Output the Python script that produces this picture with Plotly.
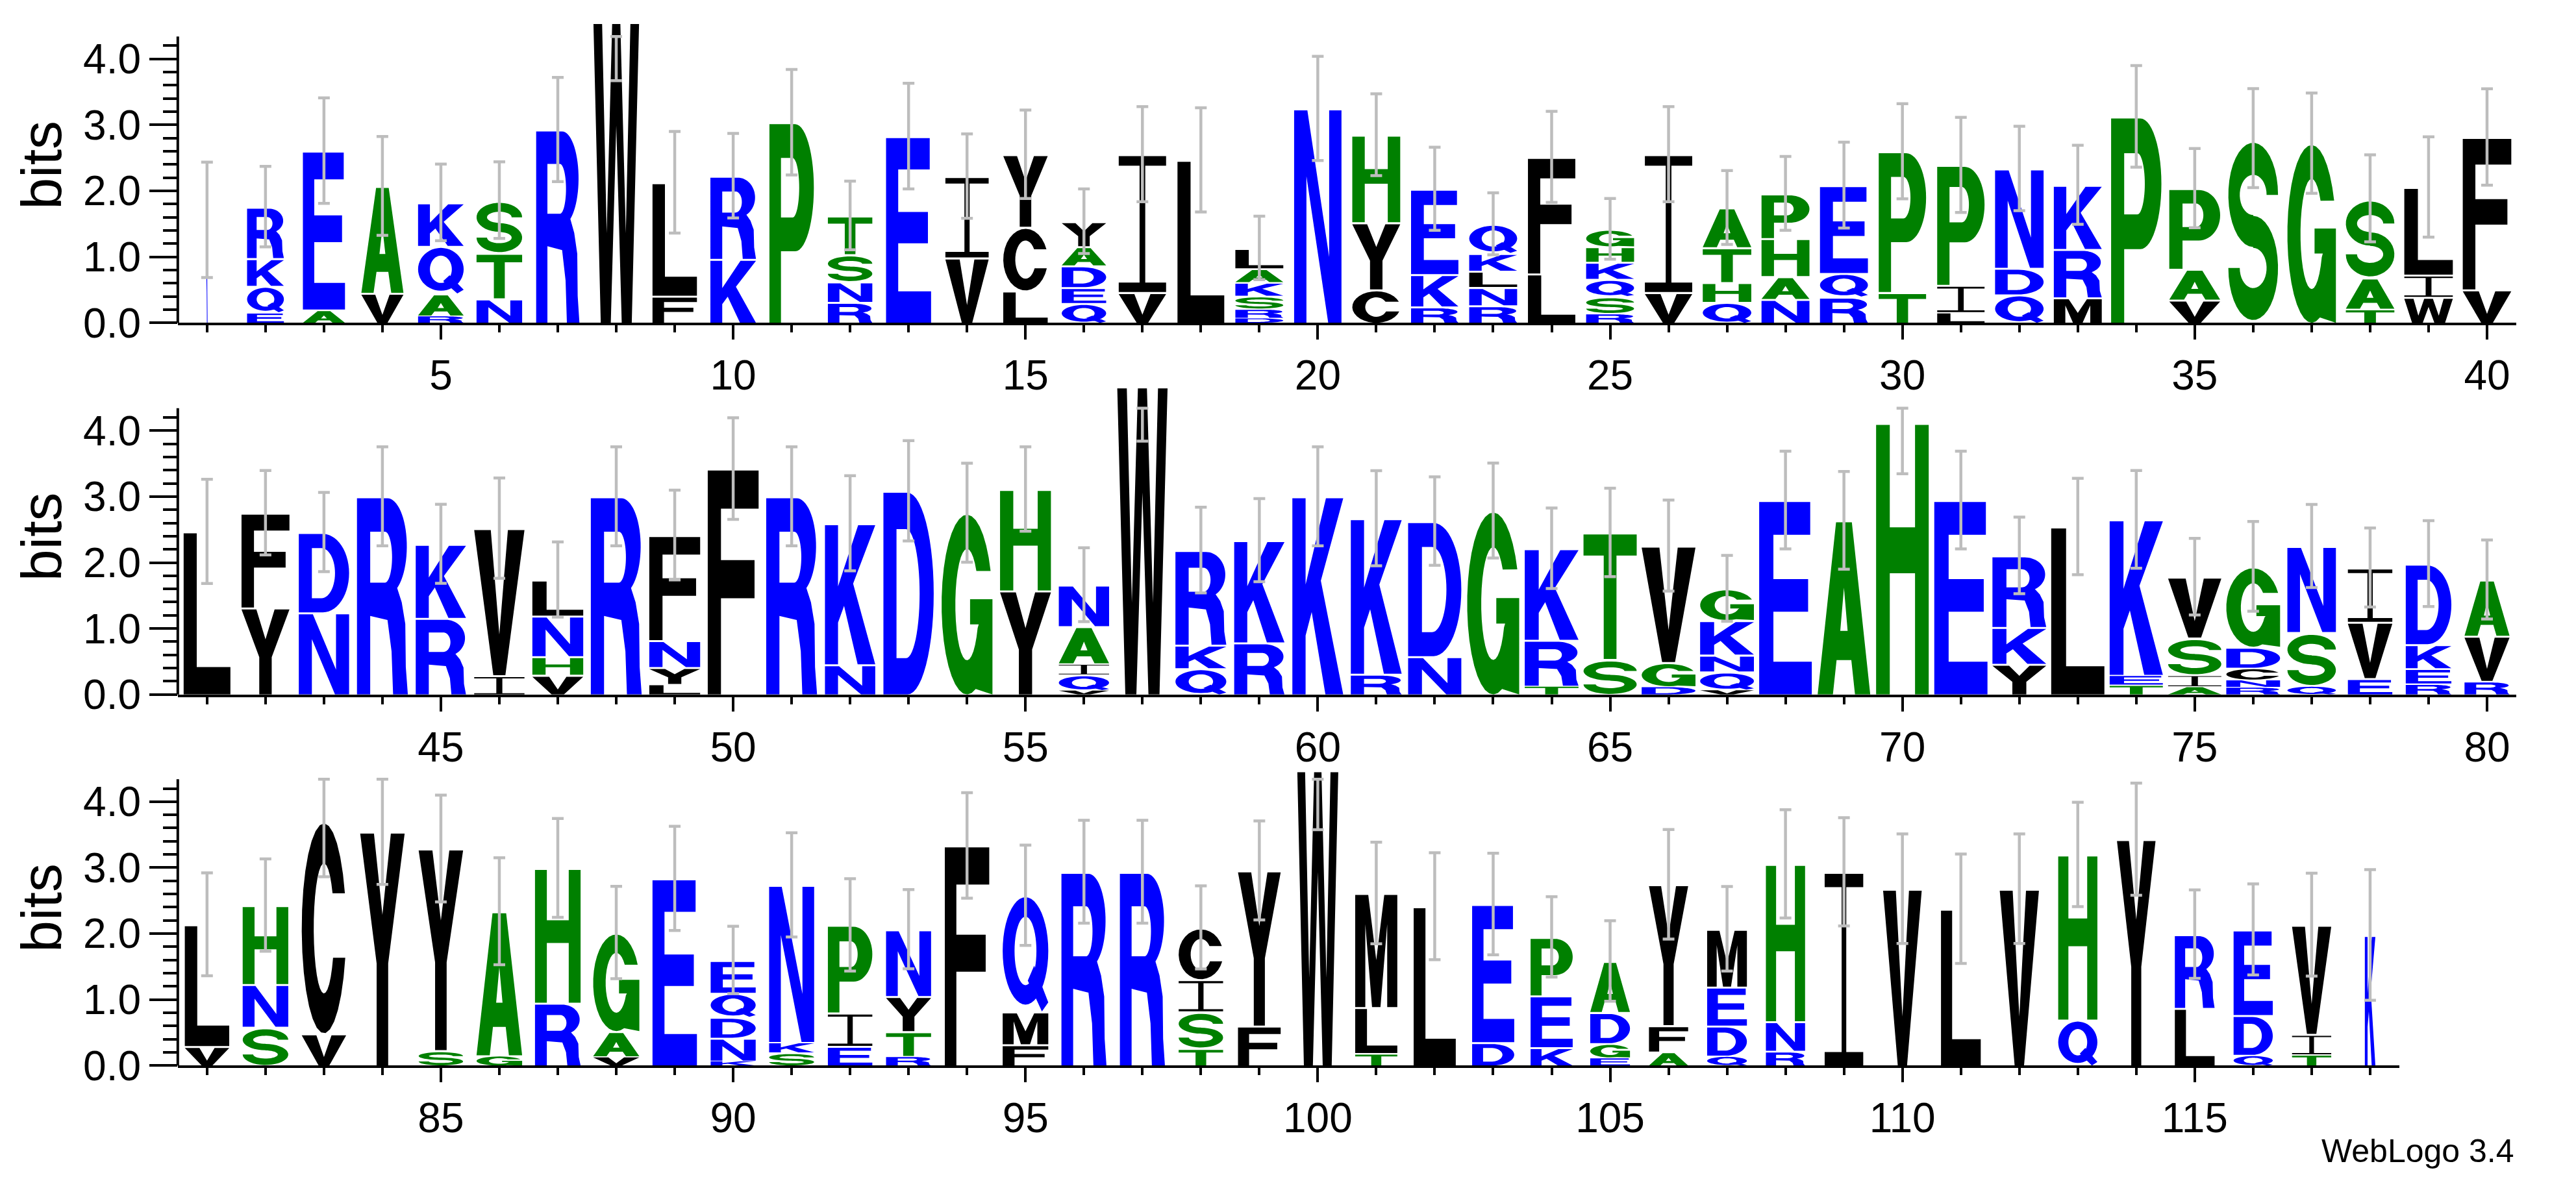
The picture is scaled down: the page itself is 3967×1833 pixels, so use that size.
import math
import plotly.graph_objects as go

# ---------------------------------------------------------------- data
# letters listed bottom -> top for every position; heights in bits
row1_start = 1
row1_letters = ["K", "EQKR", "AE", "VA", "RAQK", "NTS", "R", "W", "FL", "KR",
                "P", "RNST", "E", "VI", "LCY", "QEDAY", "VI", "L", "DRSKAL", "N",
                "CYH", "RKE", "RNLKQ", "LF", "RSQKHG", "VI", "QHTA", "NAHP", "RQE", "TP",
                "LIP", "QDN", "MRK", "P", "VAP", "S", "G", "TAS", "WIL", "VF"]
row1_heights = [[1.56], [0.16, 0.40, 0.42, 0.78], [0.20, 2.41], [0.455, 1.62],
                [0.11, 0.335, 0.72, 0.66], [0.37, 0.69, 0.80], [2.93], [4.56],
                [0.41, 1.72], [0.97, 1.26], [3.04], [0.317, 0.31, 0.414, 0.586],
                [2.83], [0.99, 1.234], [0.49, 0.965, 1.10], [0.30, 0.24, 0.33, 0.29, 0.38],
                [0.466, 2.09], [2.47], [0.076, 0.138, 0.197, 0.207, 0.207, 0.31], [3.25],
                [0.507, 1.017, 1.328], [0.248, 0.49, 1.293], [0.266, 0.276, 0.248, 0.269, 0.441],
                [0.748, 1.766], [0.145, 0.26, 0.26, 0.26, 0.234, 0.266], [0.466, 2.09],
                [0.317, 0.30, 0.528, 0.603], [0.362, 0.345, 0.576, 0.679], [0.397, 0.359, 1.331],
                [0.466, 2.134], [0.162, 0.414, 1.817], [0.43, 0.403, 1.507], [0.386, 0.734, 0.972],
                [3.128], [0.352, 0.466, 1.224], [2.80], [2.724], [0.214, 0.472, 1.20],
                [0.393, 0.338, 1.328], [0.507, 2.31]]
row1_err = [0.875, 0.61, 0.80, 0.75, 0.58, 0.58, 0.79, 0.89, 0.77, 0.64,
            0.80, 0.52, 0.80, 0.64, 0.67, 0.49, 0.72, 0.79, 0.48, 0.79,
            0.62, 0.63, 0.47, 0.69, 0.46, 0.72, 0.56, 0.56, 0.65, 0.72,
            0.72, 0.64, 0.60, 0.77, 0.60, 0.75, 0.76, 0.66, 0.76, 0.73]
row1_width = [0.02, 0.63, 0.72, 0.72, 0.78, 0.78, 0.74, 0.78, 0.76, 0.78,
              0.76, 0.76, 0.77, 0.74, 0.76, 0.76, 0.81, 0.80, 0.82, 0.81,
              0.82, 0.81, 0.82, 0.81, 0.82, 0.81, 0.83, 0.82, 0.82, 0.81,
              0.81, 0.83, 0.82, 0.86, 0.87, 0.85, 0.83, 0.83, 0.83, 0.83]

row2_start = 41
row2_letters = ["L", "YF", "ND", "R", "RK", "IV", "VHNL", "R", "LYNF", "F",
                "R", "NK", "D", "G", "YH", "VQIAN", "W", "QKR", "RK", "K",
                "RK", "ND", "G", "TRK", "ST", "DGV", "VQNKG", "E", "A", "H",
                "E", "YKR", "L", "TEK", "AISV", "RNCDG", "QSN", "EVI", "REKD", "RVA"]
row2_heights = [[2.473], [1.318, 1.437], [1.245, 1.218], [3.004], [1.162, 1.122],
                [0.292, 2.23], [0.299, 0.282, 0.614, 0.548], [3.004],
                [0.16, 0.256, 0.408, 1.593], [3.425],
                [3.004], [0.458, 2.137], [3.087], [2.755], [1.577, 1.537],
                [0.066, 0.239, 0.166, 0.564, 0.63], [4.67], [0.398, 0.358, 1.434],
                [0.79, 1.55], [3.004],
                [0.315, 2.357], [0.581, 2.048], [2.788], [0.133, 0.697, 1.387], [0.538, 1.918],
                [0.126, 0.365, 1.766], [0.073, 0.275, 0.256, 0.524, 0.481], [2.947], [2.639], [4.116],
                [2.947], [0.465, 0.558, 1.085], [2.546], [0.149, 0.149, 2.357],
                [0.126, 0.173, 0.564, 0.923], [0.116, 0.11, 0.179, 0.319, 1.218],
                [0.133, 0.813, 1.305], [0.249, 0.853, 0.823], [0.166, 0.232, 0.365, 1.221],
                [0.206, 0.684, 0.853]]
row2_err = [0.79, 0.64, 0.60, 0.75, 0.60, 0.76, 0.57, 0.75, 0.68, 0.77,
            0.75, 0.72, 0.76, 0.75, 0.64, 0.56, 0.83, 0.65, 0.63, 0.75,
            0.72, 0.67, 0.72, 0.61, 0.67, 0.69, 0.50, 0.74, 0.74, 0.77,
            0.74, 0.58, 0.73, 0.74, 0.58, 0.68, 0.63, 0.60, 0.65, 0.60]
row2_width = [0.80, 0.82, 0.86, 0.87, 0.86, 0.86, 0.87, 0.87, 0.87, 0.87,
              0.87, 0.86, 0.86, 0.87, 0.87, 0.86, 0.86, 0.87, 0.86, 0.87,
              0.87, 0.91, 0.89, 0.92, 0.91, 0.92, 0.92, 0.90, 0.90, 0.90,
              0.91, 0.92, 0.91, 0.91, 0.91, 0.92, 0.83, 0.76, 0.78, 0.77]

row3_start = 81
row3_letters = ["VL", "SNH", "VC", "Y", "SY", "GA", "RH", "VAG", "E", "KNDQE",
                "SKN", "EIP", "RTYN", "F", "FMQ", "R", "R", "TSIC", "FY", "W",
                "TLM", "L", "DE", "KEP", "EGDA", "AFY", "QDEM", "RNH", "I", "V",
                "L", "V", "QH", "Y", "LR", "QDE", "TIV", "K"]
row3_heights = [[0.296, 1.844], [0.588, 0.648, 1.196], [0.488, 3.213], [3.545], [0.233, 3.056],
                [0.156, 2.183], [0.953, 2.043], [0.14, 0.382, 1.495], [2.837],
                [0.073, 0.349, 0.316, 0.365, 0.498],
                [0.2, 0.156, 2.382], [0.299, 0.505, 1.329], [0.146, 0.375, 0.532, 1.013], [3.336],
                [0.322, 0.498, 1.761], [2.937], [2.937], [0.266, 0.555, 0.488, 0.784],
                [0.605, 2.352], [4.475],
                [0.189, 0.698, 1.728], [2.415], [0.355, 2.093], [0.279, 0.784, 0.887],
                [0.123, 0.216, 0.472, 0.774], [0.213, 0.399, 2.136], [0.15, 0.455, 0.591, 0.877],
                [0.223, 0.449, 2.385], [2.937], [2.681],
                [2.377], [2.681], [0.696, 2.504], [3.432], [0.873, 1.119], [0.162, 0.603, 1.298],
                [0.17, 0.31, 1.655], [1.98]]
row3_err = [0.78, 0.70, 0.84, 0.80, 0.81, 0.81, 0.75, 0.70, 0.79, 0.51,
            0.79, 0.70, 0.60, 0.80, 0.76, 0.78, 0.78, 0.63, 0.75, 0.90,
            0.77, 0.81, 0.77, 0.61, 0.61, 0.83, 0.64, 0.82, 0.82, 0.83,
            0.83, 0.83, 0.79, 0.85, 0.67, 0.69, 0.78, 0.99]
row3_width = [0.76, 0.78, 0.76, 0.76, 0.76, 0.78, 0.78, 0.79, 0.76, 0.77,
              0.77, 0.76, 0.77, 0.76, 0.78, 0.77, 0.77, 0.76, 0.73, 0.70,
              0.72, 0.72, 0.72, 0.72, 0.68, 0.67, 0.68, 0.67, 0.66, 0.66,
              0.68, 0.67, 0.67, 0.66, 0.68, 0.67, 0.67, 0.18]

y_tick_vals = [0, 1, 2, 3, 4]
y_tick_text = ["0.0", "1.0", "2.0", "3.0", "4.0"]
y_minor_vals = [v / 5 for v in range(0, 22) if v % 5 != 0]

# ---------------------------------------------------------------- style
COLORS = {}
for ch in "CFILMVWY":
    COLORS[ch] = "#000000"
for ch in "AGHPST":
    COLORS[ch] = "#008000"
for ch in "DEKNQR":
    COLORS[ch] = "#0000FF"

FONT = "Liberation Sans, Arial, Helvetica, sans-serif"
W_FIG, H_FIG = 3967, 1833
X_LEFT_PX = 265.8
PX_PER_POS = 90.03
BASE_PX = [499, 1083, 1666]
PX_PER_BIT = 103.65
Y_AXIS_TOP = 4.34
Y_RANGE = 4.78
ERR_COLOR = "#bdbdbd"


# ---------------------------------------------------------------- glyphs
def ell(cx, cy, rx, ry, a0, a1, n=28):
    pts = []
    for i in range(n + 1):
        a = math.radians(a0 + (a1 - a0) * i / n)
        pts.append((cx + rx * math.cos(a), cy + ry * math.sin(a)))
    return pts


GLYPHS = {
    "A": [([(0, 0), (0.35, 1), (0.65, 1), (1, 0), (0.71, 0), (0.64, 0.2), (0.36, 0.2), (0.29, 0)], False),
          ([(0.43, 0.37), (0.57, 0.37), (0.5, 0.62)], True)],
    "C": [(ell(0.5, 0.5, 0.5, 0.5, 19.5, 343.7) + ell(0.5, 0.5, 0.23, 0.31, 333.2, 32.6), False)],
    "D": [([(0, 0), (0, 1), (0.48, 1)] + ell(0.48, 0.5, 0.52, 0.5, 90, -90), False),
          ([(0.26, 0.18), (0.26, 0.82), (0.45, 0.82)] + ell(0.45, 0.5, 0.27, 0.32, 90, -90), True)],
    "E": [([(0, 0), (0, 1), (0.97, 1), (0.97, 0.83), (0.27, 0.83), (0.27, 0.6), (0.93, 0.6),
            (0.93, 0.43), (0.27, 0.43), (0.27, 0.17), (1, 0.17), (1, 0)], False)],
    "F": [([(0, 0), (0, 1), (1, 1), (1, 0.83), (0.26, 0.83), (0.26, 0.6), (0.92, 0.6),
            (0.92, 0.43), (0.26, 0.43), (0.26, 0)], False)],
    "G": [(ell(0.5, 0.5, 0.5, 0.5, 22, 290) + [(1.0, 0.0), (1.0, 0.53), (0.56, 0.53), (0.56, 0.39),
                                               (0.73, 0.39)] + ell(0.5, 0.5, 0.23, 0.31, 335, 37), False)],
    "H": [([(0, 0), (0, 1), (0.26, 1), (0.26, 0.62), (0.74, 0.62), (0.74, 1), (1, 1), (1, 0),
            (0.74, 0), (0.74, 0.45), (0.26, 0.45), (0.26, 0)], False)],
    "I": [([(0, 0), (1, 0), (1, 0.07), (0.56, 0.07), (0.56, 0.93), (1, 0.93), (1, 1), (0, 1),
            (0, 0.93), (0.44, 0.93), (0.44, 0.07), (0, 0.07)], False)],
    "K": [([(0, 0), (0, 1), (0.26, 1), (0.26, 0.56), (0.66, 1), (1.0, 1), (0.56, 0.58), (1.0, 0),
            (0.65, 0), (0.38, 0.42), (0.26, 0.3), (0.26, 0)], False)],
    "L": [([(0, 0), (0, 1), (0.28, 1), (0.28, 0.17), (1, 0.17), (1, 0)], False)],
    "M": [([(0, 0), (0, 1), (0.31, 1), (0.5, 0.42), (0.69, 1), (1, 1), (1, 0), (0.76, 0),
            (0.76, 0.74), (0.6, 0), (0.4, 0), (0.24, 0.74), (0.24, 0)], False)],
    "N": [([(0, 0), (0, 1), (0.28, 1), (0.74, 0.31), (0.74, 1), (1, 1), (1, 0), (0.72, 0),
            (0.26, 0.69), (0.26, 0)], False)],
    "P": [([(0, 0), (0, 1), (0.58, 1)] + ell(0.58, 0.68, 0.42, 0.32, 90, -90) + [(0.26, 0.36), (0.26, 0)], False),
          ([(0.26, 0.53), (0.26, 0.83), (0.52, 0.83)] + ell(0.52, 0.68, 0.15, 0.15, 90, -90), True)],
    "Q": [(ell(0.5, 0.53, 0.5, 0.47, 0, 360, 48), False),
          (ell(0.5, 0.53, 0.24, 0.3, 0, 360, 48), True),
          ([(0.55, 0.27), (0.69, 0.4), (1.0, 0.08), (0.86, 0.0)], False)],
    "R": [([(0, 0), (0, 1), (0.6, 1)] + ell(0.6, 0.755, 0.38, 0.245, 90, -60) +
           [(0.88, 0.47), (0.95, 0.36), (0.96, 0.14), (1.0, 0.0), (0.71, 0.0), (0.68, 0.22),
            (0.6, 0.38), (0.26, 0.4), (0.26, 0)], False),
          ([(0.26, 0.57), (0.26, 0.83), (0.55, 0.83)] + ell(0.55, 0.7, 0.14, 0.13, 90, -90), True)],
    "S": [(ell(0.5, 0.70, 0.5, 0.285, 0, 270) + ell(0.5, 0.30, 0.27, 0.11, 90, -180) +
           ell(0.5, 0.30, 0.5, 0.285, -180, 90) + ell(0.5, 0.70, 0.27, 0.11, 270, 0), False)],
    "T": [([(0, 1), (1, 1), (1, 0.83), (0.62, 0.83), (0.62, 0), (0.38, 0), (0.38, 0.83), (0, 0.83)], False)],
    "V": [([(0, 1), (0.33, 1), (0.5, 0.28), (0.67, 1), (1, 1), (0.62, 0), (0.38, 0)], False)],
    "W": [([(0, 1), (0.19, 1), (0.29, 0.3), (0.41, 1), (0.59, 1), (0.71, 0.3), (0.81, 1), (1, 1),
            (0.84, 0), (0.62, 0), (0.5, 0.66), (0.38, 0), (0.16, 0)], False)],
    "Y": [([(0, 1), (0.31, 1), (0.5, 0.65), (0.69, 1), (1, 1), (0.63, 0.44), (0.63, 0), (0.37, 0),
            (0.37, 0.44)], False)],
}


def signed_area(pts):
    a = 0.0
    for i in range(len(pts)):
        x1, y1 = pts[i]
        x2, y2 = pts[(i + 1) % len(pts)]
        a += x1 * y2 - x2 * y1
    return a / 2


for key in GLYPHS:
    fixed = []
    for pts, hole in GLYPHS[key]:
        a = signed_area(pts)
        if (a < 0 and not hole) or (a > 0 and hole):
            pts = pts[::-1]
        fixed.append(pts)
    GLYPHS[key] = fixed


def glyph_path(ch, xc, w, y0, h):
    parts = []
    for pts in GLYPHS[ch]:
        coords = ["%.4f,%.4f" % (xc + (u - 0.5) * w, y0 + v * h) for u, v in pts]
        parts.append("M" + " L".join(coords) + " Z")
    return " ".join(parts)


# ---------------------------------------------------------------- build
rows = [
    (row1_start, row1_letters, row1_heights, row1_err, row1_width),
    (row2_start, row2_letters, row2_heights, row2_err, row2_width),
    (row3_start, row3_letters, row3_heights, row3_err, row3_width),
]

fig = go.Figure()
shapes = []
layout_axes = {}

for r, (start, letters, heights, errs, widths) in enumerate(rows):
    xa = "x" if r == 0 else "x%d" % (r + 1)
    ya = "y" if r == 0 else "y%d" % (r + 1)
    n = len(letters)
    x0, x1 = start - 0.5, start + n - 0.5
    dom_x = [X_LEFT_PX / W_FIG, (X_LEFT_PX + (x1 - x0) * PX_PER_POS) / W_FIG]
    base = BASE_PX[r]
    dom_y = [1 - base / H_FIG, 1 - (base - Y_RANGE * PX_PER_BIT) / H_FIG]

    xs, ymid, ehalf = [], [], []
    for i in range(n):
        pos = start + i
        y = 0.0
        for ch, h in zip(letters[i], heights[i]):
            gap = min(0.03, 0.12 * h)
            shapes.append(dict(type="path", path=glyph_path(ch, pos, widths[i], y, h - gap),
                               fillcolor=COLORS[ch], line=dict(width=0), xref=xa, yref=ya,
                               layer="below", fillrule="nonzero"))
            y += h
        lo = y - errs[i]
        hi = min(y + errs[i], Y_AXIS_TOP)
        xs.append(pos)
        ymid.append((lo + hi) / 2)
        ehalf.append((hi - lo) / 2)

    fig.add_trace(go.Scatter(
        x=xs, y=ymid, mode="markers", xaxis=xa, yaxis=ya, showlegend=False,
        marker=dict(size=1, color="rgba(0,0,0,0)"), hoverinfo="skip",
        error_y=dict(type="data", array=ehalf, symmetric=True, color=ERR_COLOR,
                     thickness=4.5, width=9)))

    # y axis line (stops at log2(20))
    shapes.append(dict(type="line", xref="paper", yref="paper",
                       x0=dom_x[0], x1=dom_x[0], y0=dom_y[0],
                       y1=dom_y[0] + Y_AXIS_TOP / Y_RANGE * (dom_y[1] - dom_y[0]),
                       line=dict(color="black", width=4)))

    key_x = "xaxis" if r == 0 else "xaxis%d" % (r + 1)
    key_y = "yaxis" if r == 0 else "yaxis%d" % (r + 1)
    layout_axes[key_x] = dict(
        domain=dom_x, range=[x0, x1], anchor=ya, showgrid=False, zeroline=False,
        showline=True, linecolor="black", linewidth=4,
        tickmode="linear", tick0=0, dtick=5, ticks="outside", ticklen=22, tickwidth=3.5,
        tickcolor="black", tickfont=dict(family=FONT, size=64, color="black"),
        minor=dict(dtick=1, tick0=0, ticks="outside", ticklen=11, tickwidth=3.5, tickcolor="black"),
        fixedrange=True)
    layout_axes[key_y] = dict(
        domain=dom_y, range=[0, Y_RANGE], anchor=xa, showgrid=False, zeroline=False,
        showline=False, tickmode="array", tickvals=y_tick_vals, ticktext=y_tick_text,
        ticks="outside", ticklen=43, tickwidth=3.5, tickcolor="black",
        tickfont=dict(family=FONT, size=64, color="black"),
        minor=dict(tickmode="array", tickvals=y_minor_vals, ticks="outside", ticklen=22,
                   tickwidth=3.5, tickcolor="black"),
        title=dict(text="bits", font=dict(family=FONT, size=88, color="black"), standoff=4),
        fixedrange=True)

fig.update_layout(
    width=W_FIG, height=H_FIG, margin=dict(l=0, r=0, t=0, b=0),
    paper_bgcolor="white", plot_bgcolor="white", showlegend=False,
    shapes=shapes,
    annotations=[dict(text="WebLogo 3.4", xref="paper", yref="paper", x=3866 / W_FIG,
                      y=1 - 1800 / H_FIG, xanchor="right", yanchor="middle", showarrow=False,
                      font=dict(family=FONT, size=50, color="black"))],
    **layout_axes)

fig.write_html("out.html")
